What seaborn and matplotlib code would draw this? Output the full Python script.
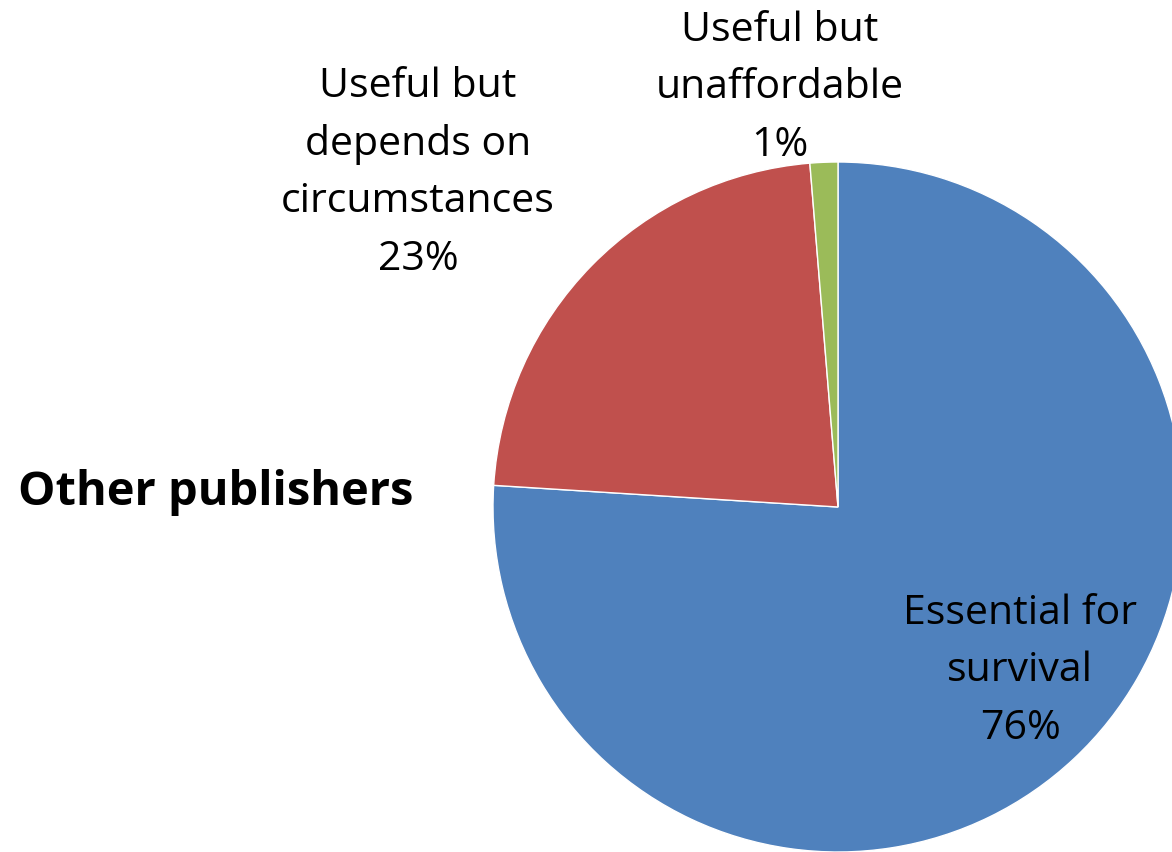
import matplotlib
matplotlib.use("Agg")
import matplotlib.pyplot as plt
import seaborn as sns

# Survey answers for "Other publishers"
categories = ["Essential for\nsurvival",
              "Useful but\ndepends on\ncircumstances",
              "Useful but\nunaffordable"]
shares = [76.0, 22.7, 1.3]
colors = ["#4F81BD", "#C0504D", "#9BBB59"]
title = "Other publishers"

sns.set_theme(style="white")
plt.rcParams["font.family"] = ["Open Sans", "DejaVu Sans"]

W, H = 1172, 853
fig = plt.figure(figsize=(W / 100, H / 100), dpi=100)
ax = fig.add_axes([0, 0, 1, 1])

# pixel-like data units: y measured upward from the bottom edge
cx, cy, r = 838, H - 508, 345
wedges, _ = ax.pie(shares, colors=colors, startangle=90, counterclock=False,
                   center=(cx, cy), radius=r,
                   wedgeprops=dict(edgecolor="white", linewidth=1.0))
ax.set_xlim(0, W)
ax.set_ylim(0, H)
ax.set_aspect("equal")
ax.axis("off")

label_pos = [(1020, H - 671), (418, H - 173), (780, H - 88)]
for name, val, (x, y) in zip(categories, shares, label_pos):
    ax.text(x, y, f"{name}\n{round(val):d}%", ha="center", va="center",
            fontsize=29.5, color="black", linespacing=1.55)

ax.text(18, H - 493, title, ha="left", va="center", fontsize=33.8,
        fontweight="bold", color="black")

fig.savefig("out.png", dpi=100)
